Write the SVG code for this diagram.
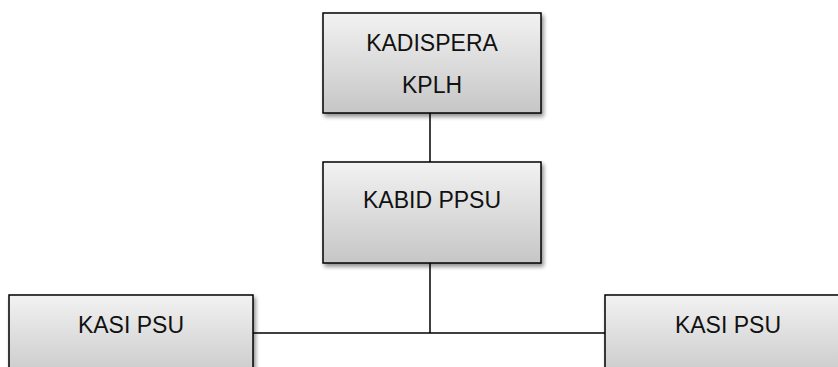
<svg xmlns="http://www.w3.org/2000/svg" width="838" height="367" viewBox="0 0 838 367">
<defs>
<linearGradient id="g" x1="0" y1="0" x2="0" y2="1">
<stop offset="0" stop-color="#f2f2f2"/>
<stop offset="1" stop-color="#c6c6c6"/>
</linearGradient>
<filter id="sh" x="-10%" y="-10%" width="130%" height="130%">
<feGaussianBlur in="SourceAlpha" stdDeviation="2"/>
<feOffset dx="2" dy="3" result="b"/>
<feComponentTransfer><feFuncA type="linear" slope="0.45"/></feComponentTransfer>
<feMerge><feMergeNode/><feMergeNode in="SourceGraphic"/></feMerge>
</filter>
</defs>
<style>
.box{fill:url(#g);stroke:#000;stroke-width:1.5;filter:url(#sh)}
.t{font-family:"Liberation Sans",Arial,sans-serif;font-size:23px;fill:#111;text-anchor:middle}
.c{stroke:#000;stroke-width:1.5;fill:none}
</style>
<g id="connectors">
<line class="c" x1="430" y1="113" x2="430" y2="162"/>
<line class="c" x1="430" y1="263" x2="430" y2="333"/>
<line class="c" x1="253" y1="333" x2="605" y2="333"/>
</g>
<g id="kadispera">
<rect class="box" x="323" y="13" width="218" height="100"/>
<text class="t" x="432" y="51">KADISPERA</text>
<text class="t" x="432" y="93">KPLH</text>
</g>
<g id="kabid">
<rect class="box" x="323" y="162" width="218" height="101"/>
<text class="t" x="432" y="208">KABID PPSU</text>
</g>
<g id="kasi1">
<rect class="box" x="9" y="295" width="244" height="90"/>
<text class="t" x="131" y="333">KASI PSU</text>
</g>
<g id="kasi2">
<rect class="box" x="605" y="295" width="250" height="90"/>
<text class="t" x="728" y="333">KASI PSU</text>
</g>
</svg>
